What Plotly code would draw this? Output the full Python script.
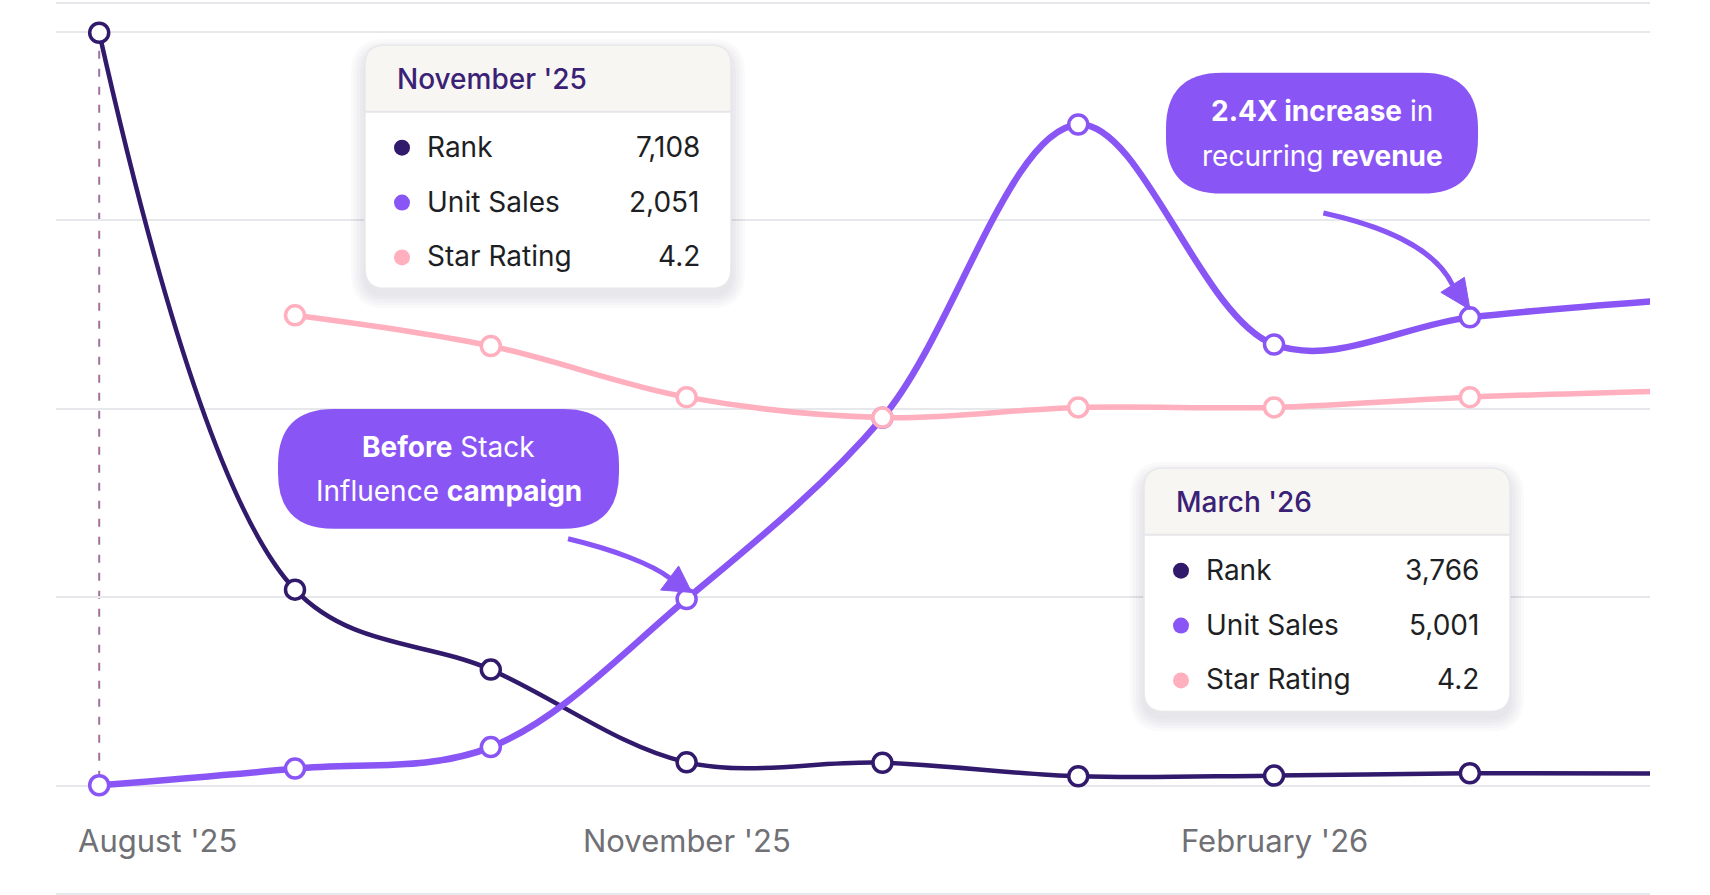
import plotly.graph_objects as go

# monthly data (Apr '26 sits just past the right edge and is clipped)
months = ["Aug '25", "Sep '25", "Oct '25", "Nov '25", "Dec '25", "Jan '26", "Feb '26", "Mar '26", "Apr '26"]
rank = [229700, 59800, 35400, 7108, 7000, 2850, 3060, 3766, 3700]
unit_sales = [100, 275, 500, 2051, 3949, 7021, 4716, 5001, 5180]
star_rating = [None, 4.6, 4.45, 4.2, 4.1, 4.15, 4.15, 4.2, 4.23]

tick_labels = ["August '25", "November '25", "February '26"]
tick_idx = [0, 3, 6]

tooltip_titles = ["November '25", "March '26"]
tooltip_idx = [3, 7]
series_names = ["Rank", "Unit Sales", "Star Rating"]

callout_lines = [["<b>Before</b> Stack", "Influence <b>campaign</b>"],
                 ["<b>2.4X increase</b> in", "recurring <b>revenue</b>"]]
callout_idx = [3, 7]

# colours
C_RANK = "#311A6B"
C_SALES = "#8A55F5"
C_STAR = "#FFAFBE"
C_GRID = "#E7E8EB"
FONT = "Inter"

# figure geometry (pixels)
FW, FH = 1710, 895
L, R, T, B = 56, 60, 2, 2
PW, PH = FW - L - R, FH - T - B


def px(X):
    return (X - L) / PW


def py(Y):
    return 1 - (Y - T) / PH


def pt(X, Y):
    return f"{px(X):.5f},{py(Y):.5f}"


def rrect(x0, y0, x1, y1, r, top=True, bottom=True):
    rt = r if top else 0
    rb = r if bottom else 0
    return (f"M {pt(x0 + rt, y0)} L {pt(x1 - rt, y0)} Q {pt(x1, y0)} {pt(x1, y0 + rt)} "
            f"L {pt(x1, y1 - rb)} Q {pt(x1, y1)} {pt(x1 - rb, y1)} "
            f"L {pt(x0 + rb, y1)} Q {pt(x0, y1)} {pt(x0, y1 - rb)} "
            f"L {pt(x0, y0 + rt)} Q {pt(x0, y0)} {pt(x0 + rt, y0)} Z")


x = list(range(len(months)))

fig = go.Figure()

series = [
    ("Rank", rank, C_RANK, 4.5, "y"),
    ("Star Rating", star_rating, C_STAR, 5.5, "y3"),
    ("Unit Sales", unit_sales, C_SALES, 6.5, "y2"),
]
for name, vals, col, w, ax in series:
    fig.add_trace(go.Scatter(
        x=x, y=vals, name=name, yaxis=ax,
        mode="lines+markers",
        line=dict(color=col, width=w, shape="spline", smoothing=1.0),
        marker=dict(size=19, color="white", line=dict(color=col, width=3.5)),
        hoverinfo="skip",
    ))

shapes = []
annotations = []

# dashed guide at the first month
shapes.append(dict(type="line", xref="x", yref="y", x0=0, x1=0, y0=rank[0], y1=0,
                   line=dict(color="#A5709F", width=2, dash="8px,10px"), layer="below"))

# tooltip cards
BOX_W, BOX_H, HEAD_H, RAD = 366, 244, 67, 20
box_pos = [(365, 43), (1144, 467)]
dot_cols = [C_RANK, C_SALES, C_STAR]
row_dy = [102, 157, 212]
for title, i, (bx, by) in zip(tooltip_titles, tooltip_idx, box_pos):
    for k in range(5):
        s = 2 + k * 3
        shapes.append(dict(type="path", xref="paper", yref="paper", layer="above",
                           path=rrect(bx - s, by + 8 - s, bx + BOX_W + s, by + BOX_H + 6 + s, RAD + s),
                           fillcolor="rgba(40,30,70,0.022)", line=dict(width=0)))
    shapes.append(dict(type="path", xref="paper", yref="paper", layer="above",
                       path=rrect(bx, by, bx + BOX_W, by + BOX_H, RAD),
                       fillcolor="white", line=dict(width=0)))
    shapes.append(dict(type="path", xref="paper", yref="paper", layer="above",
                       path=rrect(bx, by, bx + BOX_W, by + HEAD_H, RAD, bottom=False),
                       fillcolor="#F7F6F3", line=dict(width=0)))
    shapes.append(dict(type="line", xref="paper", yref="paper", layer="above",
                       x0=px(bx), x1=px(bx + BOX_W), y0=py(by + HEAD_H), y1=py(by + HEAD_H),
                       line=dict(color="#E6E6E8", width=2)))
    shapes.append(dict(type="path", xref="paper", yref="paper", layer="above",
                       path=rrect(bx, by, bx + BOX_W, by + BOX_H, RAD),
                       fillcolor="rgba(0,0,0,0)", line=dict(color="#E8E8EB", width=1.5)))
    annotations.append(dict(text=title, xref="paper", yref="paper", x=px(bx + 30), y=py(by + 34),
                            xanchor="left", yanchor="middle", showarrow=False,
                            font=dict(family=FONT, size=28, color="#3B2175", weight=500)))
    values = [f"{rank[i]:,}", f"{unit_sales[i]:,}", f"{star_rating[i]:.1f}"]
    for name, val, col, dy in zip(series_names, values, dot_cols, row_dy):
        cx, cy = bx + 37, by + dy + 1
        shapes.append(dict(type="circle", xref="paper", yref="paper", layer="above",
                           x0=px(cx - 8), x1=px(cx + 8), y0=py(cy + 8), y1=py(cy - 8),
                           fillcolor=col, line=dict(width=0)))
        annotations.append(dict(text=name, xref="paper", yref="paper", x=px(bx + 60), y=py(by + dy),
                                xanchor="left", yanchor="middle", showarrow=False,
                                font=dict(family=FONT, size=28, color="#1E1F24")))
        annotations.append(dict(text=val, xref="paper", yref="paper", x=px(bx + 337), y=py(by + dy),
                                xanchor="right", yanchor="middle", showarrow=False,
                                font=dict(family=FONT, size=28, color="#1E1F24")))

# callout pills
pill_pos = [(278, 408, 619, 528), (1166, 71, 1478, 192)]
for lines, (x0, y0, x1, y1) in zip(callout_lines, pill_pos):
    shapes.append(dict(type="path", xref="paper", yref="paper", layer="above",
                       path=rrect(x0, y0, x1, y1, 56), fillcolor=C_SALES, line=dict(width=0)))
    cxm, cym = (x0 + x1) / 2, (y0 + y1) / 2
    for ln, off in zip(lines, [-22.5, 22.5]):
        annotations.append(dict(text=ln, xref="paper", yref="paper", x=px(cxm), y=py(cym + off),
                                xanchor="center", yanchor="middle", showarrow=False,
                                font=dict(family=FONT, size=28, color="white")))

# curved arrows, drawn in pixels relative to the data point they point at
arrow_paths = [("M -118.6,60.3 C -75,50 -35,35 -16.6,20.8", "M -26,9 L -8,33 L 5.1,6.6 Z"),
               ("M -146.5,104.3 C -90,92 -35,70 -17.3,32.3", "M -29,25 L -5.5,40 L 0.2,7.7 Z")]
for i, (curve, head) in zip(callout_idx, arrow_paths):
    common = dict(type="path", xref="x", yref="y2", xsizemode="pixel", ysizemode="pixel",
                  xanchor=x[i], yanchor=unit_sales[i], layer="above")
    shapes.append(dict(common, path=curve, line=dict(color=C_SALES, width=5)))
    shapes.append(dict(common, path=head, fillcolor=C_SALES, line=dict(color=C_SALES, width=1)))

# x tick labels
tick_shift = [-23, 0, 0]
tick_anchor = ["left", "center", "center"]
for lab, i, sh, an in zip(tick_labels, tick_idx, tick_shift, tick_anchor):
    annotations.append(dict(text=lab, xref="x", yref="paper", x=x[i], y=py(840), xshift=sh,
                            xanchor=an, yanchor="middle", showarrow=False,
                            font=dict(family=FONT, size=31, color="#707075")))

fig.update_layout(
    width=FW, height=FH,
    margin=dict(l=L, r=R, t=T, b=B),
    plot_bgcolor="white", paper_bgcolor="white",
    showlegend=False,
    xaxis=dict(range=[-0.2206, 7.92], showgrid=False, zeroline=False, showticklabels=False,
               showline=True, mirror=True, linecolor=C_GRID, linewidth=2, ticks=""),
    yaxis=dict(range=[-32752, 238463], tick0=0, dtick=57500, showgrid=True, gridcolor=C_GRID,
               gridwidth=2, zeroline=False, showticklabels=False, ticks=""),
    yaxis2=dict(range=[-1028, 8283], overlaying="y", visible=False),
    yaxis3=dict(range=[1.776, 6.122], overlaying="y", visible=False),
    shapes=shapes,
    annotations=annotations,
)

fig.write_html("out.html", config={"displayModeBar": False},
               post_script="document.body.style.margin='0';")
